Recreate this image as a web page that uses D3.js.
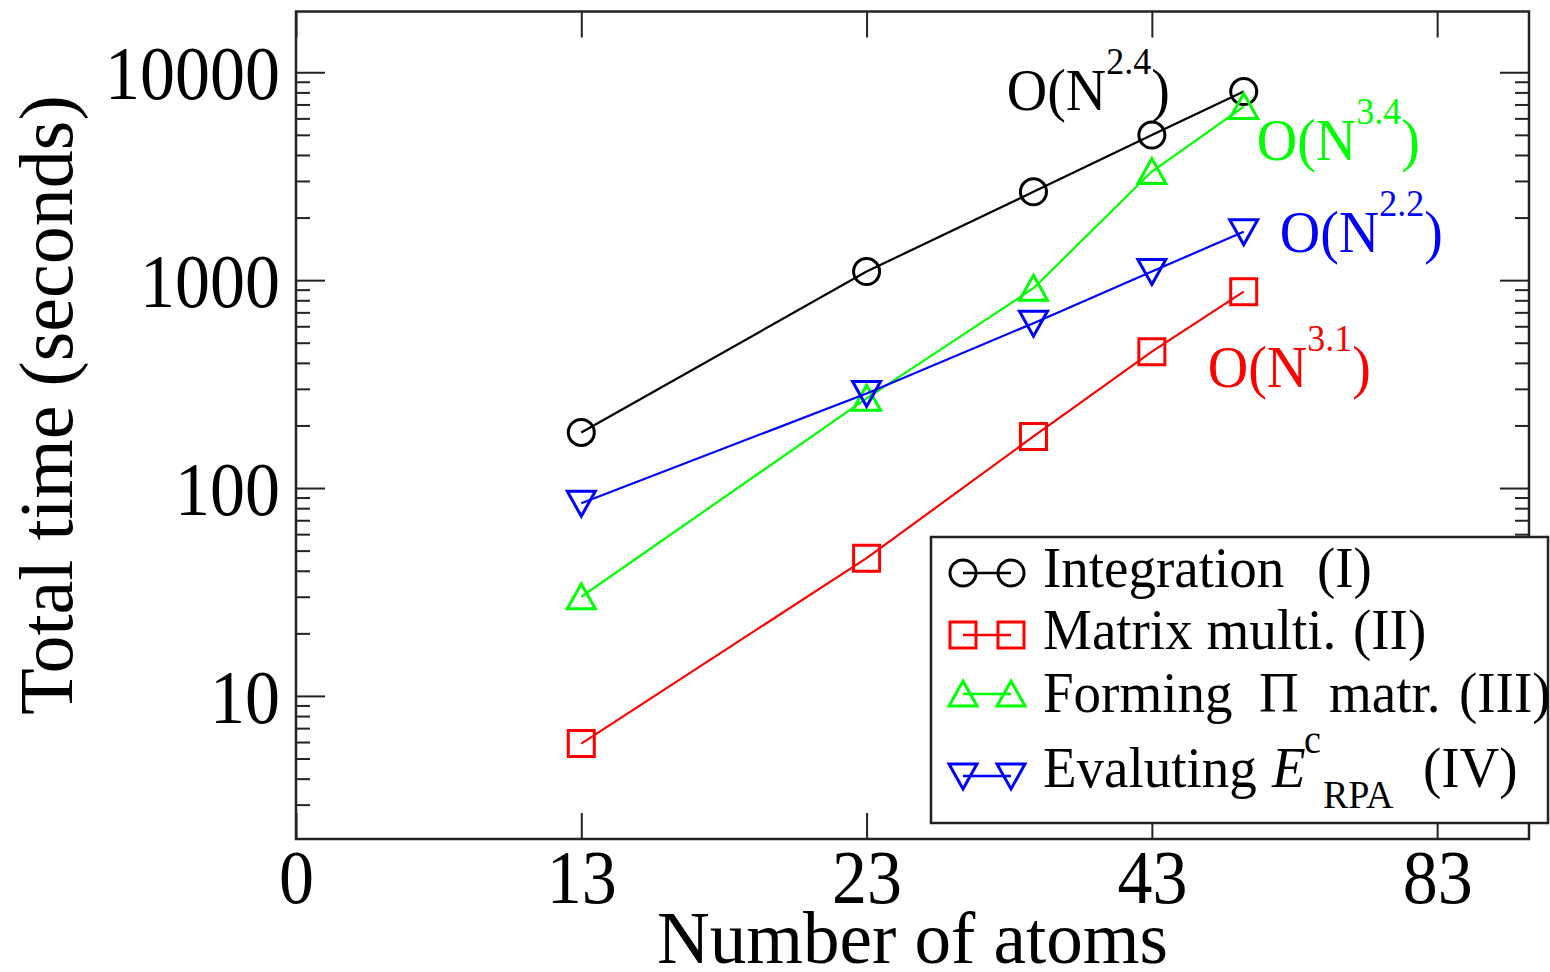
<!DOCTYPE html>
<html>
<head>
<meta charset="utf-8">
<script src="https://cdn.jsdelivr.net/npm/d3@7"></script>
<style>
body { margin: 0; background: #fff; }
svg text { font-family: "Liberation Serif", "Times New Roman", serif; }
</style>
</head>
<body>
<svg id="chart" width="1550" height="972"></svg>
<script>
var atoms = [13, 23, 33, 43, 53];
var integration = [185, 1100, 2660, 4990, 8070];
var matrixMulti = [5.9, 46, 177, 453, 880];
var formingPi = [30, 270, 914, 3330, 6840];
var evalRPA = [84.5, 285, 621, 1100, 1710];

var xTickValues = [8, 13, 23, 43, 83];
var xTickLabels = ["0", "13", "23", "43", "83"];
var yTickValues = [10, 100, 1000, 10000];
var atomOffset = 3;

var seriesNames = ["Integration", "Matrix multi.", "Forming", "Evaluting"];
var seriesColors = ["#000000", "#ff0000", "#00ff00", "#0000ff"];
var seriesSymbols = ["circle", "square", "up", "down"];
var seriesOrders = ["2.4", "3.1", "3.4", "2.2"];

var L = 296, R = 1529, T = 11.5, B = 839;
var svg = d3.select("#chart");

var xs = d3.scaleLog().base(2).domain([5, 100]).range([L, R]);
var ys = d3.scaleLog().domain([2.05, 19600]).range([B, T]);
var X = function(n){ return xs(n - atomOffset); };

var yMinor = [];
[1, 10, 100, 1000].forEach(function(p){
  for (var k = 2; k <= 9; k++) { var v = k * p; if (v >= 2.05 && v <= 19600) yMinor.push(v); }
});

// axes: all ticks point inward
function strip(g){ g.select(".domain").remove(); g.selectAll("line").attr("stroke", "#222").attr("stroke-width", 2); }

svg.append("g").attr("transform", "translate(0," + B + ")")
  .call(d3.axisBottom(xs).tickValues(xTickValues.map(function(v){ return v - atomOffset; }))
    .tickFormat(function(d, i){ return xTickLabels[i]; }).tickSizeInner(-26).tickSizeOuter(0))
  .call(strip)
  .call(function(g){
    g.selectAll("text").attr("fill", "#000").attr("font-size", 70).attr("y", 58).attr("dy", null)
      .attr("transform", "scale(1,1.1)");
  });

svg.append("g").attr("transform", "translate(0," + T + ")")
  .call(d3.axisTop(xs).tickValues(xTickValues.map(function(v){ return v - atomOffset; }))
    .tickFormat("").tickSizeInner(-26).tickSizeOuter(0))
  .call(strip);

svg.append("g").attr("transform", "translate(" + L + ",0)")
  .call(d3.axisLeft(ys).tickValues(yTickValues).tickFormat(d3.format("d")).tickSizeInner(-29).tickSizeOuter(0))
  .call(strip)
  .call(function(g){
    g.selectAll("text").attr("fill", "#000").attr("font-size", 70).attr("x", -16).attr("dy", "0.34em")
      .attr("transform", "scale(1,1.1)");
  });
svg.append("g").attr("transform", "translate(" + L + ",0)")
  .call(d3.axisLeft(ys).tickValues(yMinor).tickFormat("").tickSizeInner(-14).tickSizeOuter(0))
  .call(strip);
svg.append("g").attr("transform", "translate(" + R + ",0)")
  .call(d3.axisRight(ys).tickValues(yTickValues).tickFormat("").tickSizeInner(-29).tickSizeOuter(0))
  .call(strip);
svg.append("g").attr("transform", "translate(" + R + ",0)")
  .call(d3.axisRight(ys).tickValues(yMinor).tickFormat("").tickSizeInner(-14).tickSizeOuter(0))
  .call(strip);

svg.append("rect").attr("x", L).attr("y", T).attr("width", R - L).attr("height", B - T)
  .attr("fill", "none").attr("stroke", "#222").attr("stroke-width", 2.5);

svg.append("text").attr("transform", "translate(72,405) rotate(-90)")
  .attr("text-anchor", "middle").attr("font-size", 76).text("Total time (seconds)");
svg.append("text").attr("x", (L + R) / 2).attr("y", 963)
  .attr("text-anchor", "middle").attr("font-size", 73).text("Number of atoms");

function symbolPath(type, x, y){
  if (type == "circle") return "M" + (x + 13) + "," + y + "A13,13 0 1,1 " + (x - 13) + "," + y + "A13,13 0 1,1 " + (x + 13) + "," + y + "Z";
  if (type == "square") return "M" + (x - 13) + "," + (y - 13) + "h26v26h-26Z";
  if (type == "up") return "M" + x + "," + (y - 13) + "L" + (x + 14) + "," + (y + 12) + "L" + (x - 14) + "," + (y + 12) + "Z";
  return "M" + x + "," + (y + 13) + "L" + (x + 14) + "," + (y - 12) + "L" + (x - 14) + "," + (y - 12) + "Z";
}

var allSeries = [integration, matrixMulti, formingPi, evalRPA];
var line = d3.line().x(function(d){ return X(d[0]); }).y(function(d){ return ys(d[1]); });

allSeries.forEach(function(vals, s){
  var pts = atoms.map(function(a, i){ return [a, vals[i]]; });
  var g = svg.append("g");
  g.append("path").attr("d", line(pts)).attr("fill", "none")
    .attr("stroke", seriesColors[s]).attr("stroke-width", 2.2);
  g.selectAll("path.sym").data(pts).enter().append("path").attr("class", "sym")
    .attr("d", function(d){ return symbolPath(seriesSymbols[s], X(d[0]), ys(d[1])); })
    .attr("fill", "none").attr("stroke", seriesColors[s]).attr("stroke-width", 3);
});

// order annotations, placed relative to each series' last point
var orderOffsets = [[-237, 18], [-36, 95], [13, 53], [36, 20]];
allSeries.forEach(function(vals, s){
  var n = atoms.length - 1;
  var t = svg.append("text")
    .attr("x", X(atoms[n]) + orderOffsets[s][0])
    .attr("y", ys(vals[n]) + orderOffsets[s][1])
    .attr("fill", seriesColors[s]).attr("font-size", 56)
    .attr("transform", "translate(0," + (ys(vals[n]) + orderOffsets[s][1]) * -0.05 + ") scale(1,1.05)");
  t.append("tspan").text("O(N");
  t.append("tspan").attr("font-size", 36).attr("dy", -34).text(seriesOrders[s]);
  t.append("tspan").attr("dy", 34).text(")");
});

// legend
var lg = svg.append("g").attr("transform", "translate(931,537)");
lg.append("rect").attr("width", 617).attr("height", 286)
  .attr("fill", "#fff").attr("stroke", "#222").attr("stroke-width", 2.5);
var rowY = [36, 98, 157, 239];
var baseY = [50, 112, 175, 250];
seriesNames.forEach(function(name, s){
  lg.append("line").attr("x1", 32).attr("x2", 80).attr("y1", rowY[s]).attr("y2", rowY[s])
    .attr("stroke", seriesColors[s]).attr("stroke-width", 2.5);
  [32, 80].forEach(function(px){
    lg.append("path").attr("d", symbolPath(seriesSymbols[s], px, rowY[s]))
      .attr("fill", "none").attr("stroke", seriesColors[s]).attr("stroke-width", 3);
  });
});
function legendText(i){
  return lg.append("text").attr("x", 112).attr("y", baseY[i] / 1.05).attr("font-size", 55)
    .attr("transform", "scale(1,1.05)").attr("fill", "#000");
}
var t0 = legendText(0);
t0.append("tspan").text("Integration");
t0.append("tspan").attr("x", 386).text("(I)");
var t1 = legendText(1);
t1.append("tspan").text("Matrix multi.");
t1.append("tspan").attr("x", 422).text("(II)");
var t2 = legendText(2);
t2.append("tspan").text("Forming");
t2.append("tspan").attr("x", 328).text("\u03A0");
t2.append("tspan").attr("x", 398).text("matr.");
t2.append("tspan").attr("x", 528).text("(III)");
var t3 = legendText(3);
t3.append("tspan").text("Evaluting");
t3.append("tspan").attr("x", 341).attr("font-style", "italic").text("E");
t3.append("tspan").attr("x", 373).attr("dy", -32).attr("font-size", 38).text("c");
t3.append("tspan").attr("x", 392).attr("dy", 52).attr("font-size", 38).text("RPA");
t3.append("tspan").attr("x", 492).attr("dy", -20).text("(IV)");
</script>
</body>
</html>
